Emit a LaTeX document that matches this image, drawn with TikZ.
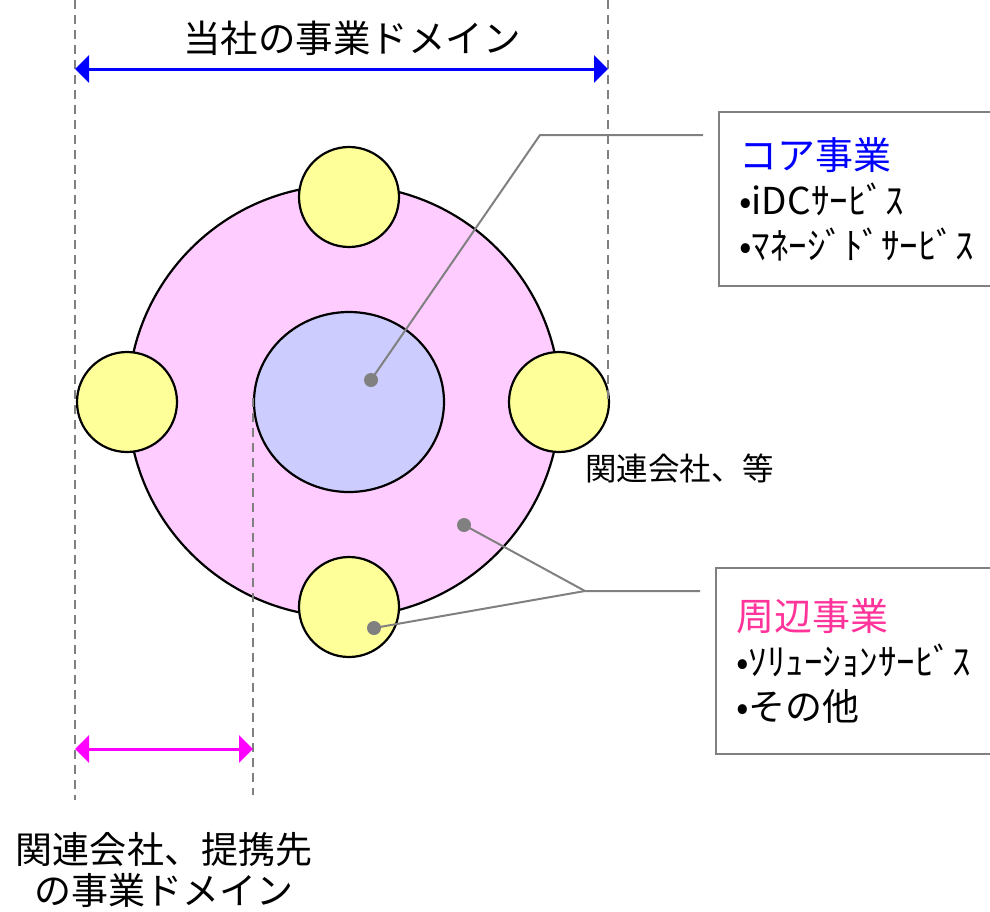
\documentclass[tikz,border=0pt]{standalone}
\usepackage{fontspec}
\setmainfont{Noto Sans CJK JP}
\usetikzlibrary{shapes.geometric, arrows.meta, positioning, calc}
\definecolor{pinkfill}{RGB}{255,204,255}
\definecolor{corefill}{RGB}{204,204,255}
\definecolor{yelfill}{RGB}{255,255,153}
\definecolor{guidegray}{RGB}{128,128,128}
\definecolor{periph}{RGB}{255,51,153}
\definecolor{corebl}{RGB}{0,0,255}
\definecolor{relmag}{RGB}{255,0,255}
\tikzset{
    relcirc/.style={circle, draw=black, line width=2.2pt, fill=yelfill, minimum size=100pt, inner sep=0pt},
    guide/.style={draw=guidegray, line width=2.4pt, dash pattern=on 9pt off 6pt},
    leader/.style={draw=guidegray, line width=2pt},
    dotmark/.style={circle, fill=guidegray, minimum size=14pt, inner sep=0pt},
    infobox/.style={draw=guidegray, line width=2.4pt, anchor=north west, minimum width=330pt,
        text width=290pt, inner xsep=20pt, align=left, font=\fontsize{37}{45}\selectfont},
    span/.style={line width=3pt, {Triangle[length=14pt,width=27pt]}-{Triangle[length=14pt,width=27pt]}}
}

\begin{document}
\begin{tikzpicture}[x=1pt, y=-1pt]
\clip (0,0) rectangle (990,911);

% business domain circles
\node[circle, draw=black, line width=2.2pt, fill=pinkfill, minimum size=432pt] (dom) at (344,401) {};
\node[ellipse, draw=black, line width=2.2pt, fill=corefill, minimum width=190pt, minimum height=180pt] (core) at (349,402) {};
\node[relcirc] (relN) at (349,197) {};
\node[relcirc] (relW) at (127,402) {};
\node[relcirc] (relE) at (559,402) {};
\node[relcirc] (relS) at (349,607) {};

% guide lines
\coordinate (gLtop) at (75,0);
\coordinate (gLbot) at (75,800);
\coordinate (gRtop) at (608,0);
\coordinate (gRbot) at (608,400);
\coordinate (gItop) at (253,398);
\coordinate (gIbot) at (253,795);
\draw[guide] (gLtop) -- (gLbot);
\draw[guide] (gRtop) -- (gRbot);
\draw[guide] (gItop) -- (gIbot);

% domain spans
\coordinate (ownL) at (75,69);
\coordinate (ownR) at (608,69);
\draw[span, corebl] (ownL) -- (ownR);
\node[font=\fontsize{37.5}{40}\selectfont] (owntitle) at (352,38) {当社の事業ドメイン};
\coordinate (relL) at (75,749);
\coordinate (relR) at (253,749);
\draw[span, relmag] (relL) -- (relR);
\node[align=center, font=\fontsize{37}{41}\selectfont] (reltitle) at (164,870) {関連会社、提携先\\の事業ドメイン};

\node[anchor=west, inner sep=0pt, font=\fontsize{31.5}{32}\selectfont] (rellabel) at (585,468) {関連会社、等};

% info boxes
\node[infobox, minimum height=174pt] (corebox) at (718,111)
    {\textcolor{corebl}{\fontsize{38}{45}\selectfont コア事業}\\•iDCｻｰﾋﾞｽ\\•ﾏﾈｰｼﾞﾄﾞｻｰﾋﾞｽ};
\node[infobox, minimum height=186pt] (periphbox) at (715,567)
    {\textcolor{periph}{\fontsize{38}{45}\selectfont 周辺事業}\\•ｿﾘｭｰｼｮﾝｻｰﾋﾞｽ\\•その他};

% leaders
\node[dotmark] (dotcore) at (371,380) {};
\node[dotmark] (dotdom) at (464,525) {};
\node[dotmark] (dotrel) at (374,628) {};
\coordinate (bendcore) at (540,135);
\coordinate (endcore) at (703,135);
\coordinate (bendper) at (585,591);
\coordinate (endper) at (700,591);
\draw[leader] (dotcore.center) -- (bendcore) -- (endcore);
\draw[leader] (dotdom.center) -- (bendper) -- (endper);
\draw[leader] (dotrel.center) -- (bendper);
\end{tikzpicture}
\end{document}
